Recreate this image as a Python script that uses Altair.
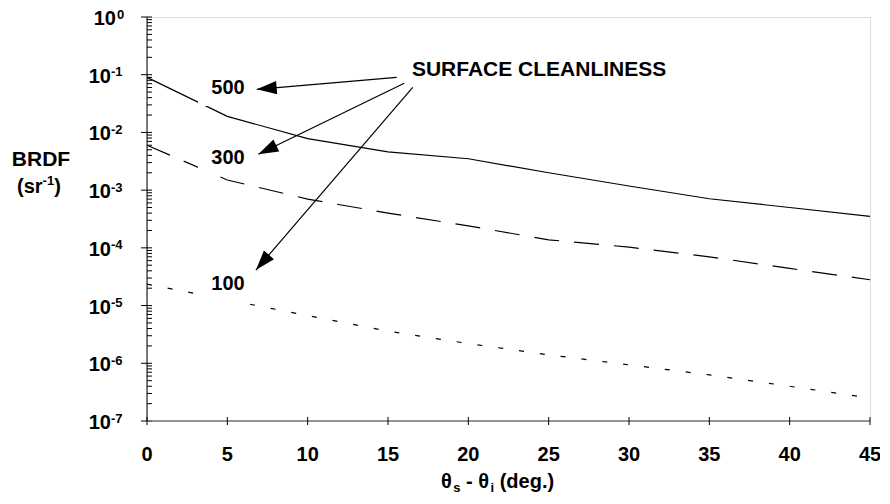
import math
import altair as alt
import pandas as pd

# ---------------- data ----------------
angle_deg = [0, 5, 10, 15, 20, 25, 30, 35, 40, 45]
brdf_500 = [0.09, 0.019, 0.0078, 0.0046, 0.0035, 0.0020, 0.00118, 0.00071, 0.0005, 0.00035]
brdf_300 = [0.006, 0.0015, 0.0007, 0.0004, 0.00024, 0.000138, 0.000103, 0.00007, 0.000044, 0.000028]
brdf_100 = [2.35e-5, 1.26e-5, 6.7e-6, 3.6e-6, 2.2e-6, 1.4e-6, 9.4e-7, 6.3e-7, 4.0e-7, 2.5e-7]

series_labels = ["500", "300", "100"]
label_x = [5.04, 5.04, 5.04]
label_y = [0.04634, 0.002838, 1.862e-5]

note_text = "SURFACE CLEANLINESS"
note_x = [16.49]
note_y = [0.0962]

arrow_x0 = [15.54, 16.01, 16.54]
arrow_y0 = [0.0902, 0.0710, 0.0605]
arrow_x1 = [6.83, 6.93, 6.78]
arrow_y1 = [0.0558, 0.00418, 4.13e-5]

x_ticks = [0, 5, 10, 15, 20, 25, 30, 35, 40, 45]
decade_exp = [0, -1, -2, -3, -4, -5, -6, -7]

# ---------------- layout ----------------
W, H = 723, 404
FONT = "Liberation Sans"
XS = alt.Scale(domain=[0, 45], nice=False, zero=False)
YS = alt.Scale(type="log", domain=[1e-7, 1], nice=False)


def X(f):
    return alt.X(f, scale=XS, axis=None)


def Y(f):
    return alt.Y(f, scale=YS, axis=None)


def px(d):
    return d / 45.0 * W


def py(v):
    return -math.log10(v) / 7.0 * H


# ---------------- series lines ----------------
def series(vals, dash):
    df = pd.DataFrame({"x": angle_deg, "y": vals})
    kw = dict(color="black", strokeWidth=1.2, clip=False)
    if dash:
        kw["strokeDash"] = dash
    return alt.Chart(df).mark_line(**kw).encode(x=X("x:Q"), y=Y("y:Q"))


l500 = series(brdf_500, None)
l300 = series(brdf_300, [25, 15])
l100 = series(brdf_100, [5, 16])

# ---------------- axes ----------------
dec_df = pd.DataFrame({
    "v": [10.0 ** e for e in decade_exp],
    "e": [str(e) for e in decade_exp],
    "x": 0,
})
minor_vals = [m * 10.0 ** e for e in range(-7, 0) for m in range(2, 10)]
minor_df = pd.DataFrame({"v": minor_vals})

y_domain = alt.Chart(pd.DataFrame({"x": [0], "y": [1.0], "y2": [1e-7]})).mark_rule(
    color="black", strokeWidth=1).encode(x=X("x:Q"), y=Y("y:Q"), y2="y2:Q")
y_major = alt.Chart(dec_df).mark_rule(color="black", strokeWidth=1).encode(
    y=Y("v:Q"), x=alt.value(-6), x2=alt.value(5))
y_minor = alt.Chart(minor_df).mark_rule(color="black", strokeWidth=1).encode(
    y=Y("v:Q"), x=alt.value(0), x2=alt.value(5))

ten_style = dict(font=FONT, fontSize=20, fontWeight="bold", align="right",
                 baseline="alphabetic", color="black")
ten_zero = alt.Chart(dec_df).transform_filter("datum.e == '0'").mark_text(
    text="10", dx=-31, dy=8, **ten_style).encode(x=X("x:Q"), y=Y("v:Q"))
ten_neg = alt.Chart(dec_df).transform_filter("datum.e != '0'").mark_text(
    text="10", dx=-36, dy=8, **ten_style).encode(x=X("x:Q"), y=Y("v:Q"))
exp_style = dict(font=FONT, fontSize=13, fontWeight="bold", align="left",
                 baseline="alphabetic", color="black")
exp_zero = alt.Chart(dec_df).transform_filter("datum.e == '0'").mark_text(
    dx=-30, dy=1.5, **exp_style).encode(x=X("x:Q"), y=Y("v:Q"), text="e:N")
exp_neg = alt.Chart(dec_df).transform_filter("datum.e != '0'").mark_text(
    dx=-36, dy=1.5, **exp_style).encode(x=X("x:Q"), y=Y("v:Q"), text="e:N")

xt_df = pd.DataFrame({"x": x_ticks, "y": 1e-7, "lab": [str(t) for t in x_ticks]})
x_domain = alt.Chart(pd.DataFrame({"x": [0], "x2": [45], "y": [1e-7]})).mark_rule(
    color="#777777", strokeWidth=1.5).encode(x=X("x:Q"), x2="x2:Q", y=Y("y:Q"))
x_tick = alt.Chart(xt_df).mark_rule(color="black", strokeWidth=1).encode(
    x=X("x:Q"), y=alt.value(H - 4), y2=alt.value(H + 4))
x_lab = alt.Chart(xt_df).mark_text(
    font=FONT, fontSize=20, fontWeight="bold", align="center", baseline="alphabetic",
    dy=40, color="black").encode(x=X("x:Q"), y=Y("y:Q"), text="lab:N")


# ---------------- titles ----------------
def txt(text, x, y, size=20, align="left"):
    return alt.Chart(alt.Data(values=[{}])).mark_text(
        text=text, font=FONT, fontSize=size, fontWeight="bold", align=align,
        baseline="alphabetic", color="black").encode(x=alt.value(x), y=alt.value(y))


y_title = [
    txt("BRDF", -106, 148.7, 21, "center"),
    txt("(sr", -130, 175.5, 20),
    txt("-1", -104.4, 168, 13),
    txt(")", -92.8, 175.5, 20),
]

tx0 = 294
tb = 471
x_title = [
    txt("\u03b8", tx0, tb, 20),
    txt("s", tx0 + 12.2, tb + 4, 13),
    txt("-", tx0 + 25.0, tb, 20),
    txt("\u03b8", tx0 + 37.3, tb, 20),
    txt("i", tx0 + 49.5, tb + 4, 13),
    txt("(deg.)", tx0 + 58.7, tb, 20),
]

# ---------------- annotation ----------------
lab_df = pd.DataFrame({"x": label_x, "y": label_y, "t": series_labels})
box = alt.Chart(lab_df).mark_point(
    shape="M-1,-0.667L0.733,-0.667L0.733,0.4L-1,0.4Z", filled=True, fill="white",
    strokeWidth=0, opacity=1, size=3600).encode(x=X("x:Q"), y=Y("y:Q"))
labels = alt.Chart(lab_df).mark_text(
    font=FONT, fontSize=20, fontWeight="bold", align="center", baseline="alphabetic",
    color="black").encode(x=X("x:Q"), y=Y("y:Q"), text="t:N")

note = alt.Chart(pd.DataFrame({"x": note_x, "y": note_y})).mark_text(
    text=note_text, font=FONT, fontSize=21, fontWeight="bold", align="left",
    baseline="alphabetic", color="black").encode(x=X("x:Q"), y=Y("y:Q"))

angles = []
for a, b, c, d in zip(arrow_x0, arrow_y0, arrow_x1, arrow_y1):
    dxp = px(c) - px(a)
    dyp = py(d) - py(b)
    angles.append(math.degrees(math.atan2(dxp, -dyp)) % 360)

arr_df = pd.DataFrame({"x0": arrow_x0, "y0": arrow_y0, "x1": arrow_x1,
                       "y1": arrow_y1, "ang": angles})
arr_lines = alt.Chart(arr_df).mark_rule(color="black", strokeWidth=1.2).encode(
    x=X("x0:Q"), y=Y("y0:Q"), x2="x1:Q", y2="y1:Q")
arr_heads = alt.Chart(arr_df).mark_point(
    shape="M0,0L-0.33,1L0.33,1Z", filled=True, fill="black", strokeWidth=0,
    opacity=1, size=1600).encode(
    x=X("x1:Q"), y=Y("y1:Q"), angle=alt.Angle("ang:Q", scale=None))

chart = alt.layer(
    l500, l300, l100,
    box,
    y_minor, y_major, y_domain,
    x_domain, x_tick, x_lab,
    ten_zero, ten_neg, exp_zero, exp_neg,
    *y_title, *x_title,
    labels, note, arr_lines, arr_heads,
).properties(
    width=W, height=H,
    autosize=alt.AutoSizeParams(type="none"),
    padding={"left": 139, "top": 9, "right": 10, "bottom": 75},
).configure_view(stroke=None).configure(background="white")

chart.save("out.html", embed_options={"renderer": "svg", "actions": False})
